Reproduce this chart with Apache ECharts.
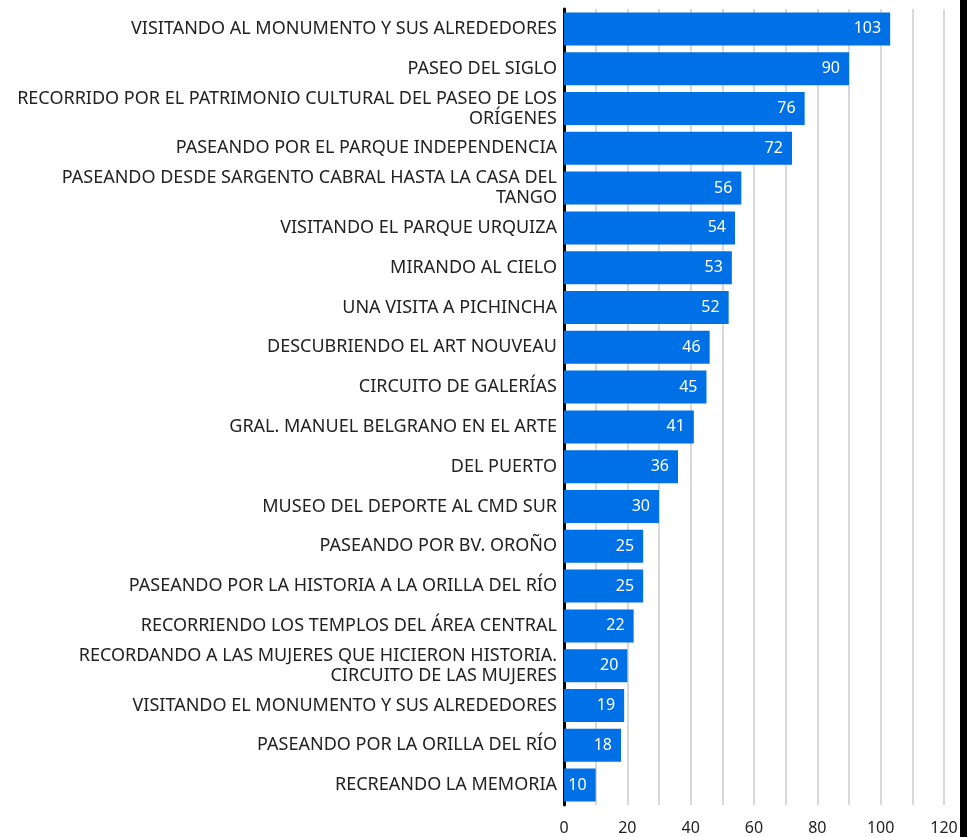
<!DOCTYPE html>
<html>
<head>
<meta charset="utf-8">
<script src="https://cdn.jsdelivr.net/npm/echarts@6/dist/echarts.min.js"></script>
<style>
  html, body { margin: 0; padding: 0; background: #fff; overflow: hidden; }
  #chart { width: 967px; height: 837px; }
</style>
</head>
<body>
<div id="chart"></div>
<script>
// recorridos y cantidad
const categories = [
  "VISITANDO AL MONUMENTO Y SUS ALREDEDORES",
  "PASEO DEL SIGLO",
  "RECORRIDO POR EL PATRIMONIO CULTURAL DEL PASEO DE LOS ORÍGENES",
  "PASEANDO POR EL PARQUE INDEPENDENCIA",
  "PASEANDO DESDE SARGENTO CABRAL HASTA LA CASA DEL TANGO",
  "VISITANDO EL PARQUE URQUIZA",
  "MIRANDO AL CIELO",
  "UNA VISITA A PICHINCHA",
  "DESCUBRIENDO EL ART NOUVEAU",
  "CIRCUITO DE GALERÍAS",
  "GRAL. MANUEL BELGRANO EN EL ARTE",
  "DEL PUERTO",
  "MUSEO DEL DEPORTE AL CMD SUR",
  "PASEANDO POR BV. OROÑO",
  "PASEANDO POR LA HISTORIA A LA ORILLA DEL RÍO",
  "RECORRIENDO LOS TEMPLOS DEL ÁREA CENTRAL",
  "RECORDANDO A LAS MUJERES QUE HICIERON HISTORIA. CIRCUITO DE LAS MUJERES",
  "VISITANDO EL MONUMENTO Y SUS ALREDEDORES",
  "PASEANDO POR LA ORILLA DEL RÍO",
  "RECREANDO LA MEMORIA"
];
const values = [103, 90, 76, 72, 56, 54, 53, 52, 46, 45, 41, 36, 30, 25, 25, 22, 20, 19, 18, 10];

const labelFont = "18px 'Noto Sans'";
const ctx = document.createElement("canvas").getContext("2d");
ctx.font = labelFont;

// parte el texto en lineas sin dejar espacios al final
function wrap(text, maxW) {
  const words = text.split(" ");
  const lines = [];
  let cur = "";
  words.forEach(function (w) {
    const test = cur ? cur + " " + w : w;
    if (cur && ctx.measureText(test).width > maxW) {
      lines.push(cur);
      cur = w;
    } else {
      cur = test;
    }
  });
  if (cur) lines.push(cur);
  return lines.join("\n");
}

const chart = echarts.init(document.getElementById("chart"));
const option = {
  animation: false,
  textStyle: { fontFamily: "Noto Sans" },
  grid: { left: 564, right: 23, top: 9, bottom: 32, containLabel: false },
  graphic: [
    // borde negro a la derecha
    { type: "rect", left: 960, top: 0, shape: { width: 7, height: 837 }, style: { fill: "#000" } }
  ],
  xAxis: {
    type: "value",
    min: 0,
    max: 120,
    interval: 10,
    axisLine: { show: false },
    axisTick: { show: false },
    splitLine: { show: true, lineStyle: { color: "#d9d9d9", width: 2 } },
    axisLabel: {
      color: "#222",
      fontSize: 16,
      margin: 15,
      formatter: function (v) { return v % 20 === 0 ? v : ""; }
    }
  },
  yAxis: {
    type: "category",
    data: categories,
    inverse: true,
    axisTick: { show: false },
    axisLine: { show: true, lineStyle: { color: "#000", width: 3 } },
    axisLabel: {
      color: "#222",
      fontSize: 18,
      margin: 7,
      lineHeight: 20,
      formatter: function (v) { return wrap(v, 556); }
    }
  },
  series: [
    {
      type: "bar",
      data: values,
      barCategoryGap: "17%",
      itemStyle: { color: "#0070e6" },
      label: {
        show: true,
        position: "insideRight",
        distance: 9,
        color: "#fff",
        fontSize: 16
      }
    }
  ]
};
chart.setOption(option);
</script>
</body>
</html>
